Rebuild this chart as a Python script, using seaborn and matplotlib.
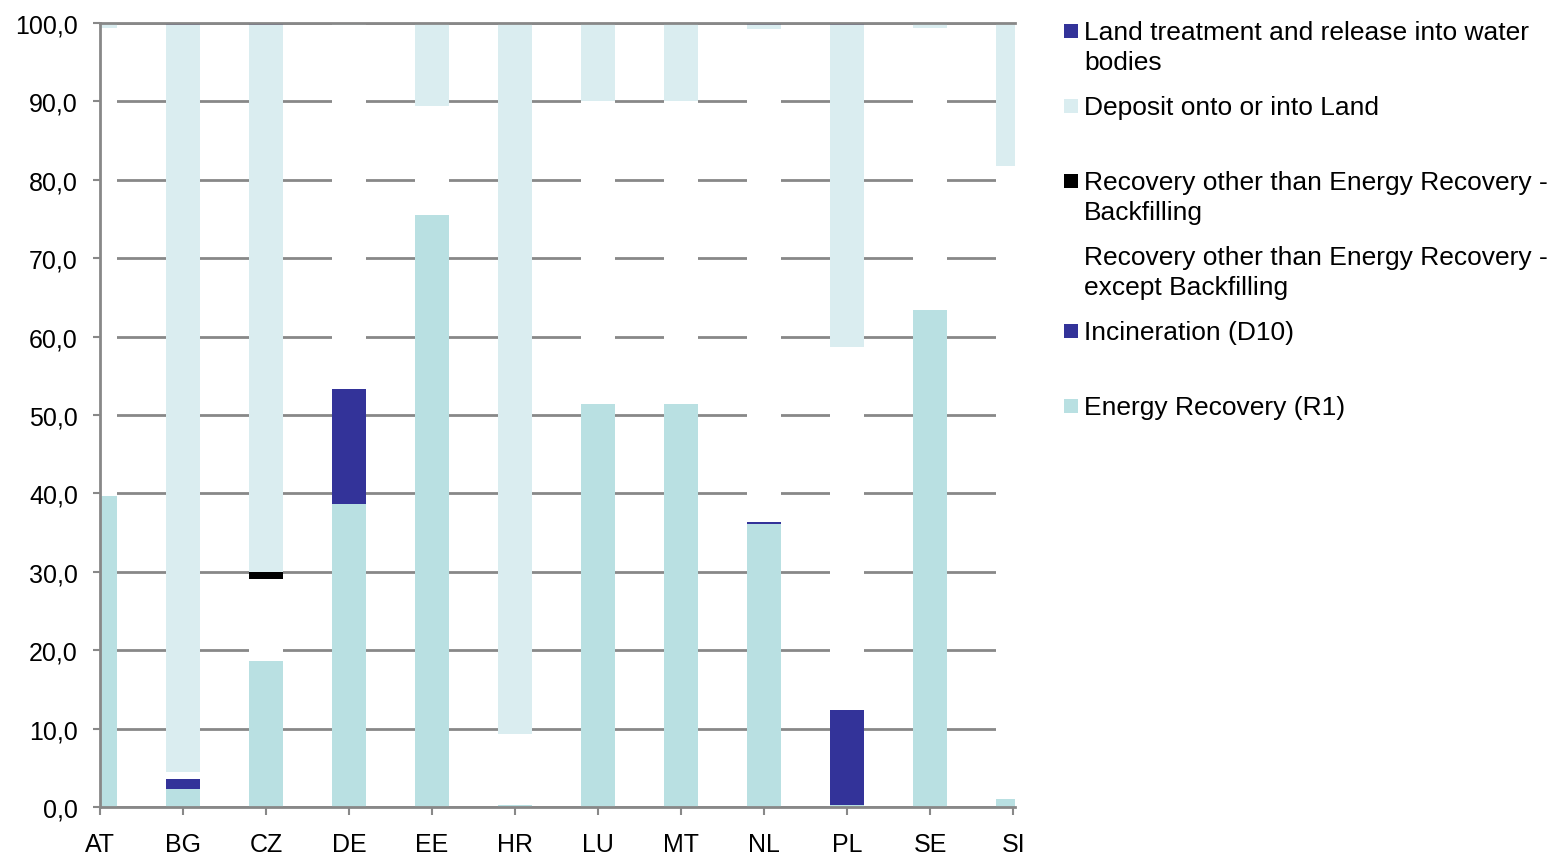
import matplotlib.pyplot as plt
import matplotlib.patches as mpatches
import numpy as np
import seaborn as sns

sns.set_style('white')
plt.rcParams['font.family'] = ['Liberation Sans', 'DejaVu Sans']
plt.rcParams['text.color'] = 'black'

countries = ['AT', 'BG', 'CZ', 'DE', 'EE', 'HR', 'LU', 'MT', 'NL', 'PL', 'SE', 'SI']

# shares in %, bottom to top of each stack
energy_recovery = [39.7, 2.3, 18.6, 38.6, 75.5, 0.2, 51.4, 51.4, 36.1, 0.3, 63.4, 1.0]
incineration = [0.0, 1.3, 0.0, 14.7, 0.0, 0.0, 0.0, 0.0, 0.2, 12.1, 0.0, 0.0]
recovery_except_backfill = [59.7, 0.9, 10.5, 46.5, 13.9, 9.1, 38.7, 38.7, 62.9, 46.3, 36.0, 80.8]
recovery_backfill = [0.0, 0.0, 0.9, 0.0, 0.0, 0.0, 0.0, 0.0, 0.0, 0.0, 0.0, 0.0]
deposit_land = [0.6, 95.3, 69.8, 0.2, 10.6, 90.7, 9.9, 9.9, 0.6, 41.1, 0.6, 18.2]
land_treatment = [0.0, 0.2, 0.2, 0.0, 0.0, 0.0, 0.0, 0.0, 0.2, 0.2, 0.0, 0.0]

series = [
    ('Energy Recovery (R1)', energy_recovery, '#b9e0e2'),
    ('Incineration (D10)', incineration, '#333399'),
    ('Recovery other than Energy Recovery -\nexcept Backfilling', recovery_except_backfill, '#ffffff'),
    ('Recovery other than Energy Recovery -\nBackfilling', recovery_backfill, '#000000'),
    ('Deposit onto or into Land', deposit_land, '#daedf0'),
    ('Land treatment and release into water\nbodies', land_treatment, '#333399'),
]

fig = plt.figure(figsize=(15.59, 8.54), dpi=100)
ax = fig.add_axes([100 / 1559, 1 - 808 / 854, 915 / 1559, 784 / 854])

grid_col = '#888888'
bottom = np.zeros(len(countries))
for name, vals, col in series:
    sns.barplot(x=countries, y=vals, bottom=bottom, color=col, width=0.41,
                errorbar=None, linewidth=0, saturation=1, ax=ax)
    bottom += np.array(vals)

ax.set_xlim(0, 11.02)
ax.set_ylim(0, 100)
ax.set_yticks(np.arange(0, 101, 10))
ax.set_yticklabels([f'{v:.1f}'.replace('.', ',') for v in np.arange(0, 101, 10)])
ax.set_axisbelow(True)
ax.yaxis.grid(True, color=grid_col, lw=2)
ax.xaxis.grid(False)
ax.spines['right'].set_visible(False)
for side in ['left', 'bottom', 'top']:
    ax.spines[side].set_color(grid_col)
    ax.spines[side].set_linewidth(2)
ax.tick_params(axis='both', which='both', labelsize=18, colors=grid_col,
               labelcolor='black', width=1.5)
ax.tick_params(axis='y', length=5, pad=11, left=True)
ax.tick_params(axis='x', length=6, pad=12, bottom=True)
ax.set_xlabel('')
ax.set_ylabel('')

# legend, Excel-style: one fixed slot per entry, text aligned to the first line
legend_items = list(reversed(series))
for i, (name, vals, col) in enumerate(legend_items):
    yc = 32 + 75 * i
    if col != '#ffffff':
        fig.add_artist(mpatches.Rectangle((1064 / 1559, 1 - (yc + 7) / 854), 14 / 1559, 14 / 854,
                                          transform=fig.transFigure, facecolor=col,
                                          edgecolor='none'))
    fig.text(1084 / 1559, 1 - (yc - 11) / 854, name, fontsize=19, va='top', ha='left',
             linespacing=1.3)

fig.savefig('out.png', dpi=100)
